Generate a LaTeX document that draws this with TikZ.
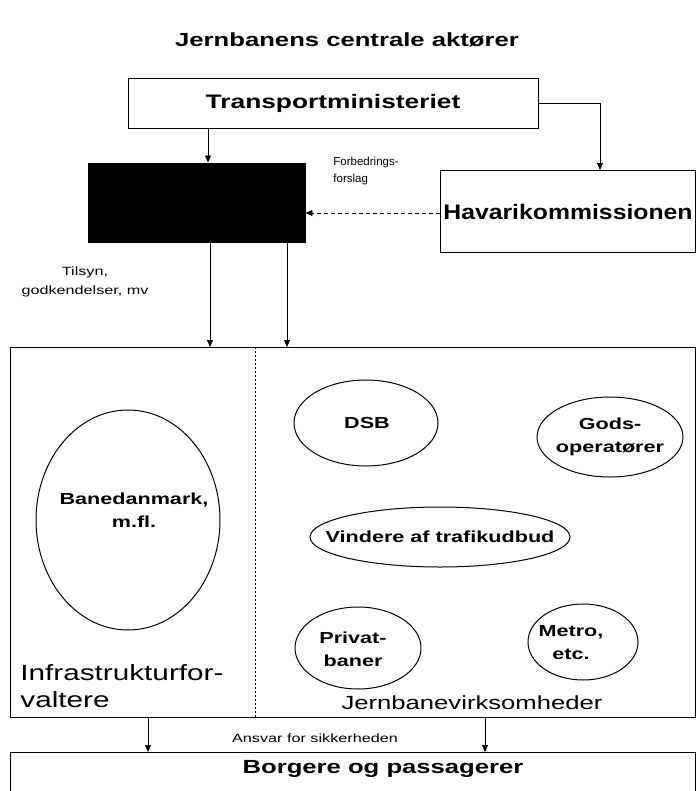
\documentclass[tikz,border=0pt]{standalone}
\usepackage{fontspec}
\setmainfont[FakeStretch=1.35]{Liberation Sans}
\newfontfamily\plainfont{Liberation Sans}
\newfontfamily\hkfont[FakeStretch=1.18]{Liberation Sans}
\usetikzlibrary{arrows.meta,shapes.geometric}
\begin{document}
\begin{tikzpicture}[x=1pt,y=-1pt,
  line width=0.9pt,
  arr/.style={-{Triangle[length=7pt,width=6pt]}},
  box/.style={draw,rectangle,inner sep=0pt},
  ell/.style={draw,ellipse,inner sep=0pt,line width=1pt},
  etext/.style={inner sep=0pt,align=center,font=\fontsize{16}{23}\selectfont\bfseries},
  small/.style={font=\fontsize{12}{19}\selectfont,align=left,inner sep=0pt}]
\useasboundingbox (0,0) rectangle (695,791);
\node[font=\fontsize{19}{22}\selectfont\bfseries] (title) at (347,40) {Jernbanens centrale aktører};
\node[box,minimum width=410pt,minimum height=50pt,font=\fontsize{19.5}{22}\selectfont\bfseries] (tm) at (333,103) {Transportministeriet};
\node[box,fill=black,minimum width=217pt,minimum height=79pt] (tr) at (196.5,202.5) {};
\node[box,minimum width=255pt,minimum height=82pt,anchor=north west] (hk) at (440,170) {};
\node[font=\hkfont\fontsize{21}{24}\selectfont\bfseries,inner sep=0pt] (hkt) at (568,212) {Havarikommissionen};
\node[font=\plainfont\fontsize{11.5}{16.5}\selectfont,align=left,inner sep=0pt,anchor=north west] (fb) at (333,157) {Forbedrings-\\forslag};
\node[small,align=center] (til) at (85,282) {Tilsyn,\\godkendelser, mv};
\node[box,minimum width=685pt,minimum height=370pt,anchor=north west] (big) at (10,347) {};
\coordinate (dtop) at (255,347);
\coordinate (dbot) at (255,717);
\draw[line width=0.6pt,dash pattern=on 2pt off 2pt] (dtop) -- (dbot);
\node[ell,minimum width=184pt,minimum height=220pt] (bd) at (128,520) {};
\node[etext] (bdt) at (134,510) {Banedanmark,\\m.fl.};
\node[ell,minimum width=144pt,minimum height=86pt] (dsb) at (366,423) {};
\node[etext] (dsbt) at (367,423) {DSB};
\node[ell,minimum width=146pt,minimum height=80pt] (gods) at (610,437) {};
\node[etext] (godst) at (610,437) {Gods-\\operatører};
\node[ell,minimum width=260pt,minimum height=60pt] (vind) at (440,537) {};
\node[etext] (vindt) at (440,537) {Vindere af trafikudbud};
\node[ell,minimum width=126pt,minimum height=82pt] (priv) at (358,648) {};
\node[etext] (privt) at (353,649) {Privat-\\baner};
\node[ell,minimum width=110pt,minimum height=76pt] (metro) at (583,642) {};
\node[etext] (metrot) at (571,643) {Metro,\\etc.};
\node[font=\fontsize{22}{27}\selectfont,align=left,anchor=north west,inner sep=0pt] (infra) at (20,664) {Infrastrukturfor-\\valtere};
\node[font=\fontsize{19}{22}\selectfont,inner sep=0pt] (jv) at (472,703) {Jernbanevirksomheder};
\node[box,minimum width=685pt,minimum height=60pt,anchor=north west] (bp) at (10,752) {};
\node[font=\fontsize{19}{22}\selectfont\bfseries,inner sep=0pt] (bpt) at (383,769) {Borgere og passagerer};
\node[small] (ans) at (315,738) {Ansvar for sikkerheden};
% connectors
\draw[arr] (tm.south -| 208,0) -- (tr.north -| 208,0);
\coordinate (tmc) at (600,103);
\draw[arr] (tm.east) -- (tmc) -- (hk.north -| tmc);
\draw[arr,dash pattern=on 4pt off 3pt] (hk.west |- 0,213) -- (tr.east |- 0,213);
\draw[arr] (tr.south -| 210,0) -- (big.north -| 210,0);
\draw[arr] (tr.south -| 287,0) -- (big.north -| 287,0);
\draw[arr] (big.south -| 148,0) -- (bp.north -| 148,0);
\draw[arr] (big.south -| 485,0) -- (bp.north -| 485,0);
\end{tikzpicture}
\end{document}
